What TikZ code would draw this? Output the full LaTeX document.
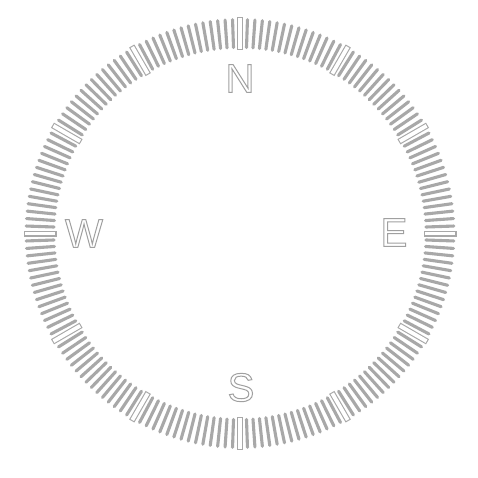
\documentclass[tikz,border=0pt]{standalone}
\usepackage{fontspec}
\setmainfont{Liberation Sans}
\usetikzlibrary{calc}
\definecolor{tickgray}{HTML}{A8A8A8}
\definecolor{lettergray}{HTML}{A0A0A0}
\newcommand{\outlinetext}[1]{\special{pdf:literal direct 1 Tr 1 w}#1\special{pdf:literal direct 0 Tr}}
\tikzset{
  graytick/.style={draw=tickgray, line width=3.1pt, line cap=round},
  whiteedge/.style={draw=tickgray, line width=6pt, line cap=rect},
  whitefill/.style={draw=white, line width=3.8pt, line cap=rect},
  letter/.style={text=lettergray, font=\fontsize{40}{40}\selectfont, inner sep=0pt, anchor=center}
}
\begin{document}
\begin{tikzpicture}[x=1pt,y=-1pt]
\useasboundingbox[fill=white] (0,0) rectangle (478,478);
\coordinate (c) at (240,233.5);
\foreach \a in {0,2,...,358} {
  \pgfmathtruncatemacro\m{mod(\a,30)}
  \ifnum\m=0
    \draw[whiteedge] ($(c)+(\a-90:186.5)$) -- ($(c)+(\a-90:213.5)$);
    \draw[whitefill] ($(c)+(\a-90:186.5)$) -- ($(c)+(\a-90:213.5)$);
  \else
    \draw[graytick] ($(c)+(\a-90:186)$) -- ($(c)+(\a-90:214)$);
  \fi
}
\node[letter] (n) at ($(c)+(0,-155)$) {\outlinetext{N}};
\node[letter] (s) at ($(c)+(1,154)$) {\outlinetext{S}};
\node[letter] (e) at ($(c)+(154,-1)$) {\outlinetext{E}};
\node[letter] (w) at ($(c)+(-156,0)$) {\outlinetext{W}};
\end{tikzpicture}
\end{document}
